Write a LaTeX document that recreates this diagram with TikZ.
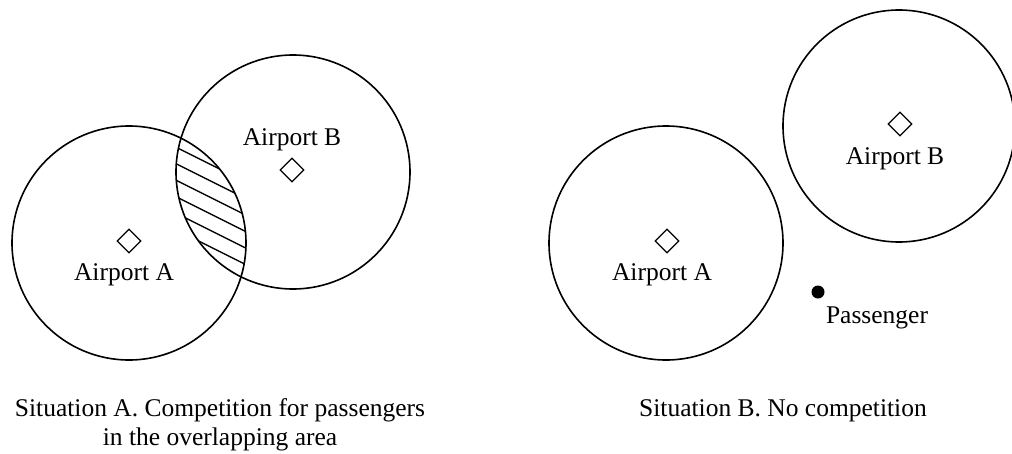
\documentclass[tikz,border=0pt]{standalone}
\usepackage{fontspec}
\setmainfont{Liberation Serif}
\usetikzlibrary{shapes.geometric}
\begin{document}
\begin{tikzpicture}[x=1pt,y=-1pt,
  zone/.style={draw=black,line width=1.6pt},
  airport/.style={draw=black,line width=1.3pt,shape=diamond,inner sep=0pt,minimum width=24pt,minimum height=24pt},
  lbl/.style={anchor=base,inner sep=0pt,font=\fontsize{25.5pt}{29pt}\selectfont},
  hatch/.style={draw=black,line width=1.3pt},
  pax/.style={fill=black,shape=circle,inner sep=0pt,minimum size=13pt}]
\useasboundingbox (0,0) rectangle (1012,453);
% Situation A
\draw[zone] (129,243) circle[radius=117pt];
\draw[zone] (293,172) circle[radius=117pt];
\begin{scope}
  \clip (129,243) circle[radius=117pt];
  \clip (293,172) circle[radius=117pt];
  \foreach \k in {0,...,5}{
    \pgfmathsetmacro{\ya}{147.5+16.5*\k-3.35}
    \pgfmathsetmacro{\yb}{147.5+16.5*\k+36.65}
    \draw[hatch] (170,\ya) -- (250,\yb);
  }
\end{scope}
\node[airport] (dA1) at (129,241) {};
\node[airport] (dB1) at (292,170) {};
\node[lbl] (tA1) at (124,280) {Airport A};
\node[lbl] (tB1) at (292,145) {Airport B};
\node[lbl] (capA1) at (220,416) {Situation A. Competition for passengers};
\node[lbl] (capA2) at (220,445) {in the overlapping area};
% Situation B
\draw[zone] (666,243) circle[radius=117pt];
\draw[zone] (899,126) circle[radius=116pt];
\node[airport] (dA2) at (667,241) {};
\node[airport] (dB2) at (900,124) {};
\node[lbl] (tA2) at (662,280) {Airport A};
\node[lbl] (tB2) at (895,164) {Airport B};
\node[pax] (p) at (818,292) {};
\node[lbl] (tp) at (877,323) {Passenger};
\node[lbl] (capB) at (783,416) {Situation B. No competition};
\end{tikzpicture}
\end{document}
